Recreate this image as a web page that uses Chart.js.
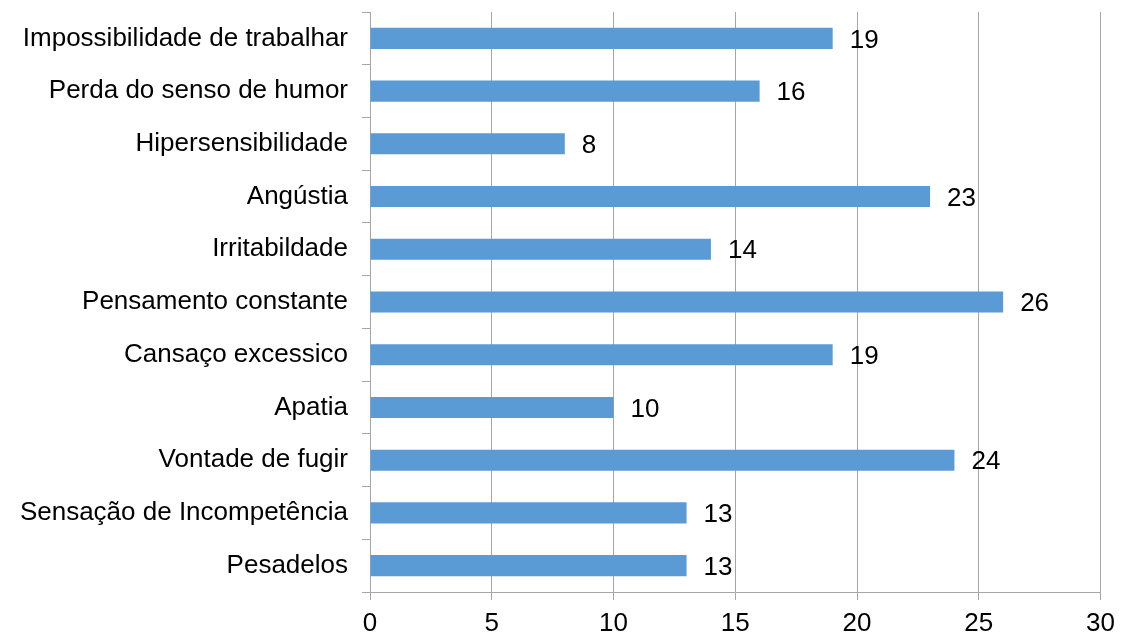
<!DOCTYPE html>
<html>
<head>
<meta charset="utf-8">
<script src="https://cdn.jsdelivr.net/npm/chart.js@4/dist/chart.umd.min.js"></script>
<style>
html,body{margin:0;padding:0;background:#fff;}
#wrap{width:1123px;height:635px;position:relative;}
</style>
</head>
<body>
<div id="wrap"><canvas id="c" width="1123" height="635"></canvas></div>
<script>
const categories = ["Impossibilidade de trabalhar","Perda do senso de humor","Hipersensibilidade","Angústia","Irritabildade","Pensamento constante","Cansaço excessico","Apatia","Vontade de fugir","Sensação de Incompetência","Pesadelos"];
const values = [19,16,8,23,14,26,19,10,24,13,13];
const xTicks = [0,5,10,15,20,25,30];

const FONT = "'Liberation Sans', Arial, sans-serif";
const FS = 26;
const gridColor = '#A6A6A6';

const labelPlugin = {
  id: 'valueLabels',
  afterDatasetsDraw(chart) {
    const ctx = chart.ctx;
    const meta = chart.getDatasetMeta(0);
    ctx.save();
    ctx.font = FS + 'px ' + FONT;
    ctx.fillStyle = '#000';
    ctx.textAlign = 'left';
    ctx.textBaseline = 'middle';
    meta.data.forEach((bar, i) => {
      ctx.fillText(String(values[i]), bar.x + 17, bar.y + 2);
    });
    ctx.restore();
  }
};

new Chart(document.getElementById('c'), {
  type: 'bar',
  data: {
    labels: categories,
    datasets: [{
      data: values,
      backgroundColor: '#5B9BD5',
      borderWidth: 0,
      categoryPercentage: 0.4,
      barPercentage: 1.0
    }]
  },
  options: {
    indexAxis: 'y',
    responsive: false,
    animation: false,
    layout: { padding: { left: 0, right: 22, top: 0, bottom: 0 } },
    plugins: { legend: { display: false }, tooltip: { enabled: false } },
    scales: {
      x: {
        min: 0, max: 30,
        afterBuildTicks(axis) { axis.ticks = xTicks.map(v => ({ value: v })); },
        afterFit(axis) { axis.height = 43; },
        grid: { color: gridColor, lineWidth: 1, tickLength: 8, drawOnChartArea: true },
        border: { color: gridColor, width: 1 },
        ticks: { color: '#000', font: { family: FONT, size: FS }, padding: 8, maxRotation: 0 }
      },
      y: {
        afterFit(axis) { axis.width = 370; axis.paddingTop = 12; axis.paddingBottom = 0; },
        grid: { offset: true, color: gridColor, lineWidth: 1, tickLength: 8, drawOnChartArea: false },
        border: { color: gridColor, width: 1 },
        ticks: { color: '#000', font: { family: FONT, size: FS }, padding: 14, autoSkip: false }
      }
    }
  },
  plugins: [labelPlugin]
});
</script>
</body>
</html>
